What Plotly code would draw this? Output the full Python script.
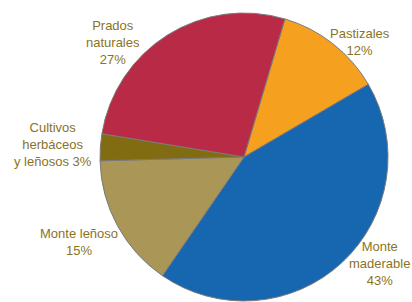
import plotly.graph_objects as go

categories = ["Pastizales", "Monte maderable", "Monte leñoso", "Cultivos herbáceos y leñosos", "Prados naturales"]
values = [12, 43, 15, 3, 27]
colors = ["#F5A01E", "#1766B0", "#AA9657", "#826C12", "#B82A45"]
label_texts = ["Pastizales<br>12%", "Monte<br>maderable<br>43%", "Monte leñoso<br>15%",
               "Cultivos<br>herbáceos<br>y leñosos 3%", "Prados<br>naturales<br>27%"]
label_px = [(360, 42), (379, 263), (79, 242), (53, 144), (113, 42)]

W, H = 412, 302
fig = go.Figure(go.Pie(
    labels=categories, values=values, sort=False, direction="clockwise",
    rotation=16.5, textinfo="none", hoverinfo="label+percent",
    marker=dict(colors=colors, line=dict(color="#7a7a7a", width=1)),
    domain=dict(x=[100 / W, 388 / W], y=[1 / H, 289 / H]),
    showlegend=False,
))

for txt, (px, py) in zip(label_texts, label_px):
    fig.add_annotation(x=px / W, y=1 - py / H, xref="paper", yref="paper",
                       text=txt, showarrow=False, align="center",
                       xanchor="center", yanchor="middle",
                       font=dict(family="Liberation Sans", size=13, color="#8A7325"))

fig.update_layout(width=W, height=H, margin=dict(l=0, r=0, t=0, b=0),
                  paper_bgcolor="white", plot_bgcolor="white")
fig.write_html("out.html", config={"displayModeBar": False})

with open("out.html", "r", encoding="utf-8") as f:
    html = f.read()
html = html.replace("<body>", '<body style="margin:0;padding:0;overflow:hidden">', 1)
with open("out.html", "w", encoding="utf-8") as f:
    f.write(html)
